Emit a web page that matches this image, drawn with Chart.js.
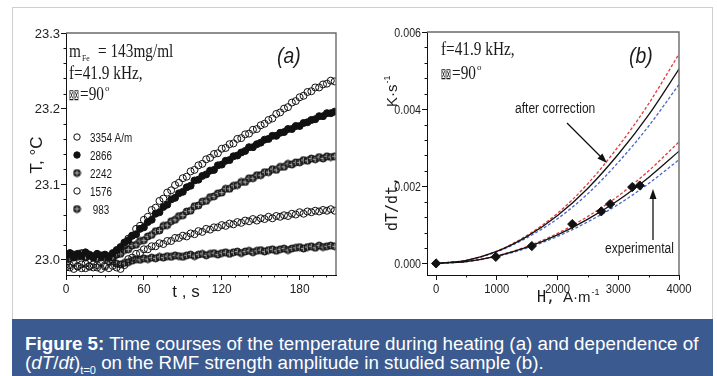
<!DOCTYPE html>
<html>
<head>
<meta charset="utf-8">
<script src="https://cdn.jsdelivr.net/npm/chart.js@4.4.1/dist/chart.umd.min.js"></script>
<style>
  body { margin: 0; background: #fff; width: 717px; height: 376px; overflow: hidden; position: relative; }
  #frame { position: absolute; left: 12px; top: 7px; width: 701px; height: 312px; border: 1px solid #cfcfcf; border-bottom: none; box-sizing: border-box; }
  canvas { position: absolute; left: 0; top: 0; }
  #caption { position: absolute; left: 12px; top: 319px; width: 701px; height: 57px; background: #3b5a8f; color: #fff;
             font-family: "Liberation Sans", Arial, sans-serif; font-size: 18.8px; line-height: 19px;
             padding: 15px 0 0 13px; box-sizing: border-box; white-space: nowrap; }
  #caption .sub { font-size: 11px; position: relative; top: 5px; }
</style>
</head>
<body>
<div id="frame"></div>
<canvas id="panelA" width="717" height="318"></canvas>
<canvas id="panelB" width="717" height="318"></canvas>
<div id="caption"><b>Figure 5:</b> Time courses of the temperature during heating (a) and dependence of<br>(<i>dT</i>/<i>dt</i>)<span class="sub">t=0</span> on the RMF strength amplitude in studied sample (b).</div>

<script>
// ---- panel (a): temperature vs time, one array per field amplitude ----
const seconds = [0,3,6,9,12,15,18,21,24,27,30,33,36,39,42,45,48,51,54,57,60,63,66,69,72,75,78,81,84,87,90,93,96,99,102,105,108,111,114,117,120,123,126,129,132,135,138,141,144,147,150,153,156,159,162,165,168,171,174,177,180,183,186,189,192,195,198,201,204,207];

const temp3354 = [22.994,22.990,22.996,22.992,22.989,22.995,22.991,22.994,22.990,22.996,
  22.993,22.998,23.004,23.007,23.015,23.019,23.028,23.032,23.041,23.045,
  23.053,23.057,23.066,23.069,23.078,23.081,23.089,23.092,23.099,23.102,
  23.108,23.110,23.117,23.119,23.125,23.127,23.133,23.135,23.140,23.141,
  23.147,23.148,23.153,23.154,23.160,23.161,23.166,23.167,23.172,23.173,
  23.178,23.180,23.185,23.187,23.193,23.195,23.200,23.202,23.208,23.210,
  23.215,23.217,23.222,23.223,23.228,23.228,23.232,23.233,23.237,23.236];

const temp2866 = [23.006,23.009,23.004,23.008,23.005,23.010,23.006,23.003,23.008,23.005,
  23.007,23.004,23.009,23.013,23.017,23.023,23.026,23.032,23.034,23.041,
  23.043,23.050,23.053,23.061,23.063,23.070,23.073,23.080,23.082,23.088,
  23.090,23.096,23.098,23.105,23.106,23.111,23.113,23.118,23.119,23.125,
  23.126,23.131,23.132,23.137,23.138,23.142,23.144,23.149,23.149,23.153,
  23.155,23.159,23.160,23.164,23.164,23.168,23.169,23.173,23.173,23.177,
  23.177,23.181,23.182,23.185,23.186,23.190,23.190,23.194,23.194,23.196];

const temp2242 = [23.004,23.008,23.003,23.006,23.009,23.004,23.007,23.005,23.002,23.006,
  23.004,23.005,23.003,23.007,23.008,23.013,23.014,23.019,23.020,23.025,
  23.026,23.031,23.033,23.038,23.039,23.045,23.046,23.051,23.053,23.058,
  23.059,23.064,23.065,23.071,23.072,23.077,23.078,23.083,23.084,23.088,
  23.089,23.094,23.094,23.098,23.099,23.103,23.103,23.108,23.108,23.112,
  23.112,23.116,23.116,23.120,23.119,23.123,23.123,23.127,23.126,23.129,
  23.129,23.132,23.131,23.134,23.133,23.136,23.134,23.137,23.136,23.137];

const temp1576 = [22.990,22.993,22.988,22.991,22.994,22.989,22.992,22.990,22.993,22.988,
  22.991,22.989,22.992,22.990,22.988,22.993,23.001,23.003,23.008,23.009,
  23.014,23.014,23.018,23.018,23.022,23.021,23.025,23.025,23.029,23.029,
  23.032,23.031,23.035,23.034,23.038,23.037,23.041,23.040,23.043,23.043,
  23.046,23.045,23.048,23.047,23.050,23.049,23.052,23.051,23.054,23.052,
  23.055,23.054,23.057,23.055,23.058,23.057,23.059,23.058,23.061,23.060,
  23.063,23.061,23.064,23.063,23.065,23.064,23.066,23.065,23.067,23.065];

const temp983 = [23.005,23.002,23.007,23.004,23.008,23.003,23.006,23.004,23.007,23.003,
  23.005,23.002,22.998,22.995,22.994,22.996,22.997,22.999,23.001,23.000,
  23.002,23.001,23.003,23.002,23.004,23.003,23.005,23.004,23.006,23.005,
  23.004,23.006,23.007,23.005,23.007,23.008,23.006,23.008,23.009,23.007,
  23.009,23.010,23.008,23.010,23.011,23.009,23.011,23.012,23.010,23.012,
  23.013,23.011,23.013,23.014,23.012,23.014,23.015,23.013,23.015,23.016,
  23.017,23.015,23.017,23.018,23.016,23.019,23.017,23.018,23.019,23.018];

const legendLabelsA = ["3354 A/m", "2866", "2242", "1576", " 983"];
const xTicksA = [0, 60, 120, 180];
const yTicksA = [23.0, 23.1, 23.2, 23.3];
const xMinorA = [10,20,30,40,50,70,80,90,100,110,130,140,150,160,170,190,200];
const yMinorA = [23.02,23.04,23.06,23.08,23.12,23.14,23.16,23.18,23.22,23.24,23.26,23.28];

// ---- panel (b): heating rate vs field amplitude ----
const fieldH = [0, 500, 1000, 1500, 2000, 2500, 3000, 3500, 4000];
const corrSolid = [0, 0.00008, 0.00031, 0.00070, 0.00124, 0.00195, 0.00283, 0.00385, 0.00504];
const corrRed   = [0, 0.00008, 0.00032, 0.00073, 0.00130, 0.00207, 0.00303, 0.00414, 0.00543];
const corrBlue  = [0, 0.00008, 0.00030, 0.00067, 0.00116, 0.00181, 0.00262, 0.00356, 0.00464];
const expSolid  = [0, 0.00005, 0.00019, 0.00042, 0.00074, 0.00115, 0.00164, 0.00223, 0.00291];
const expRed    = [0, 0.00005, 0.00020, 0.00044, 0.00078, 0.00122, 0.00175, 0.00240, 0.00315];
const expBlue   = [0, 0.00005, 0.00018, 0.00040, 0.00070, 0.00108, 0.00153, 0.00207, 0.00269];
const measuredH    = [0, 983, 1576, 2242, 2720, 2866, 3230, 3354];
const measuredRate = [0, 0.00017, 0.00045, 0.00102, 0.00135, 0.00154, 0.00198, 0.00202];

const xTicksB = [0, 1000, 2000, 3000, 4000];
const yTicksB = [0, 0.002, 0.004, 0.006];
const xMinorB = [500, 1500, 2500, 3500];
const yMinorB = [0.0004,0.0008,0.0012,0.0016,0.0024,0.0028,0.0032,0.0036,0.0044,0.0048,0.0052,0.0056];

const pairs = (xs, ys) => xs.map((x, i) => ({ x: x, y: ys[i] }));

const crossCircle = (r) => {
    const c = document.createElement("canvas");
    const s = Math.ceil(2 * r + 2);
    c.width = s; c.height = s;
    const g = c.getContext("2d");
    g.beginPath(); g.arc(s / 2, s / 2, r, 0, 2 * Math.PI);
    g.fillStyle = "#303030"; g.fill();
    g.strokeStyle = "#111"; g.lineWidth = 1; g.stroke();
    g.strokeStyle = "#bbbbbb"; g.lineWidth = 0.8;
    g.beginPath();
    g.moveTo(s / 2 - r + 1, s / 2); g.lineTo(s / 2 + r - 1, s / 2);
    g.moveTo(s / 2, s / 2 - r + 1); g.lineTo(s / 2, s / 2 + r - 1);
    g.stroke();
    return c;
};
const crossed = crossCircle(3.5);

const put = (ctx, s, x, y, font, sx = 1, sy = 1, align = "left", rot = 0, color = "#1a1a1a") => {
    ctx.save();
    ctx.translate(x, y);
    if (rot) ctx.rotate(rot);
    ctx.scale(sx, sy);
    ctx.font = font;
    ctx.fillStyle = color;
    ctx.textAlign = align;
    ctx.textBaseline = "alphabetic";
    ctx.fillText(s, 0, 0);
    const w = ctx.measureText(s).width * sx;
    ctx.restore();
    return w;
};

const arrow = (ctx, x1, y1, x2, y2) => {
    const a = Math.atan2(y2 - y1, x2 - x1);
    ctx.save();
    ctx.strokeStyle = "#111"; ctx.fillStyle = "#111"; ctx.lineWidth = 1.3;
    ctx.beginPath(); ctx.moveTo(x1, y1); ctx.lineTo(x2 - 6 * Math.cos(a), y2 - 6 * Math.sin(a)); ctx.stroke();
    ctx.beginPath();
    ctx.moveTo(x2, y2);
    ctx.lineTo(x2 - 10 * Math.cos(a) + 3.5 * Math.sin(a), y2 - 10 * Math.sin(a) - 3.5 * Math.cos(a));
    ctx.lineTo(x2 - 10 * Math.cos(a) - 3.5 * Math.sin(a), y2 - 10 * Math.sin(a) + 3.5 * Math.cos(a));
    ctx.closePath(); ctx.fill();
    ctx.restore();
};

const SERIF = '18px "Liberation Serif"';
const SANS = '"Liberation Sans", Arial, sans-serif';
const MONO = '"DejaVu Sans Mono", monospace';

// frame, minor ticks and (narrow) tick labels, all placed from the chart's own scales
const axisDecor = {
    id: "axisDecor",
    afterDraw(chart, args, opts) {
        const { ctx, chartArea: a, scales: { x, y } } = chart;
        ctx.save();
        ctx.strokeStyle = "#6a6a6a"; ctx.lineWidth = 1.4;
        ctx.beginPath(); ctx.moveTo(a.left, a.top); ctx.lineTo(a.right, a.top); ctx.lineTo(a.right, a.bottom); ctx.stroke();
        ctx.strokeStyle = "#111"; ctx.lineWidth = 1;
        ctx.beginPath();
        opts.xMinor.forEach(v => {
            const px = Math.round(x.getPixelForValue(v)) + 0.5;
            ctx.moveTo(px, a.bottom); ctx.lineTo(px, a.bottom + 2.5);
        });
        opts.yMinor.forEach(v => {
            const py = Math.round(y.getPixelForValue(v)) + 0.5;
            ctx.moveTo(a.left - 2.5, py); ctx.lineTo(a.left, py);
        });
        ctx.stroke();
        ctx.restore();
        x.ticks.forEach(t => put(ctx, opts.fmtX(t.value), x.getPixelForValue(t.value), a.bottom + 18, "13px " + SANS, opts.sxX, 1, "center", 0, "#222"));
        y.ticks.forEach(t => put(ctx, opts.fmtY(t.value), a.left - 6, y.getPixelForValue(t.value) + 4.5, "13px " + SANS, opts.sxY, 1, "right", 0, "#222"));
    }
};

const notesA = {
    id: "notesA",
    afterDraw(chart) {
        const ctx = chart.ctx;
        let w = put(ctx, "m", 69, 57, SERIF, 0.85);
        put(ctx, "Fe", 69 + w + 1, 61, '9px "Liberation Serif"', 0.85);
        put(ctx, "= 143mg/ml", 98, 57, SERIF, 0.85);
        put(ctx, "f=41.9 kHz,", 69, 79, SERIF, 0.85);
        w = put(ctx, "⊠⊠", 69, 100, '12px "DejaVu Sans"', 0.5, 1.25);
        const w2 = put(ctx, "=90", 69 + w + 1, 100, SERIF, 0.85);
        put(ctx, "o", 69 + w + 2 + w2, 91, '9px "Liberation Serif"');
        put(ctx, "(a)", 277, 63, "italic 22px " + SANS, 0.88);

        // legend
        chart.data.datasets.forEach((ds, i) => {
            const yc = 137 + i * 18;
            ctx.save();
            if (ds.pointStyle instanceof HTMLCanvasElement) {
                ctx.drawImage(ds.pointStyle, 77 - ds.pointStyle.width / 2, yc - ds.pointStyle.height / 2);
            } else {
                ctx.beginPath(); ctx.arc(77, yc, 3.2, 0, 2 * Math.PI);
                ctx.fillStyle = ds.backgroundColor; ctx.fill();
                ctx.strokeStyle = ds.borderColor; ctx.lineWidth = 1; ctx.stroke();
            }
            ctx.restore();
            put(ctx, legendLabelsA[i], 90, yc + 4.5, "12px " + SANS, 0.82);
        });

        put(ctx, "T, °C", 42, 155, "17px " + SANS, 1, 1, "center", -Math.PI / 2);
        put(ctx, "t , s", 186, 297, "17px " + SANS, 1, 1, "center");
    }
};

const notesB = {
    id: "notesB",
    afterDraw(chart) {
        const ctx = chart.ctx;
        put(ctx, "f=41.9 kHz,", 441, 55, SERIF, 0.85);
        const w = put(ctx, "⊠⊠", 441, 79, '12px "DejaVu Sans"', 0.5, 1.25);
        const w2 = put(ctx, "=90", 441 + w + 1, 79, SERIF, 0.85);
        put(ctx, "o", 441 + w + 2 + w2, 70, '9px "Liberation Serif"');
        put(ctx, "(b)", 629, 63, "italic 22px " + SANS, 0.88);
        put(ctx, "after correction", 515, 113, "14px " + SANS, 0.86);
        put(ctx, "experimental", 605, 253, "14px " + SANS, 0.86);
        arrow(ctx, 567, 123, 607, 163);
        arrow(ctx, 653, 240, 653, 189);

        put(ctx, "dT/dt,", 397, 204, "15px " + MONO, 1, 1, "center", -Math.PI / 2);
        const wk = put(ctx, "K·s", 397, 107, "15px " + SANS, 1, 1, "left", -Math.PI / 2);
        put(ctx, "-1", 390, 107 - wk - 1, "9px " + SANS, 1, 1, "left", -Math.PI / 2);
        put(ctx, "H,", 537, 302, "15px " + MONO);
        const wa = put(ctx, "A·m", 563, 302, "15px " + SANS);
        put(ctx, "-1", 563 + wa + 1, 295, "9px " + SANS);
    }
};

const axis = (min, max, ticks, fitSize, isX) => ({
    type: "linear",
    min: min,
    max: max,
    afterBuildTicks: (s) => { s.ticks = ticks.map(v => ({ value: v })); },
    afterFit: (s) => { if (isX) { s.height = fitSize; } else { s.width = fitSize; } },
    ticks: { display: false },
    grid: { drawOnChartArea: false, drawTicks: true, tickLength: 5, color: "#111" },
    border: { display: true, color: "#111", width: 1 },
});

new Chart(document.getElementById("panelA"), {
    type: "scatter",
    data: {
        datasets: [
            { label: "3354", data: pairs(seconds, temp3354), pointStyle: "circle", pointRadius: 3.5, borderWidth: 1, borderColor: "#111", backgroundColor: "rgba(255,255,255,0)" },
            { label: "2866", data: pairs(seconds, temp2866), pointStyle: "circle", pointRadius: 3.5, borderWidth: 1, borderColor: "#111", backgroundColor: "#111" },
            { label: "2242", data: pairs(seconds, temp2242), pointStyle: crossed, pointRadius: 3.5 },
            { label: "1576", data: pairs(seconds, temp1576), pointStyle: "circle", pointRadius: 3.5, borderWidth: 1, borderColor: "#111", backgroundColor: "rgba(255,255,255,0)" },
            { label: "983", data: pairs(seconds, temp983), pointStyle: crossed, pointRadius: 3.5 },
        ],
    },
    options: {
        responsive: false,
        animation: false,
        events: [],
        layout: { padding: { left: 0, right: 381, top: 33, bottom: 0 } },
        plugins: {
            legend: { display: false },
            tooltip: { enabled: false },
            axisDecor: { xMinor: xMinorA, yMinor: yMinorA, fmtX: (v) => String(v), fmtY: (v) => v.toFixed(1), sxX: 0.92, sxY: 1 },
        },
        scales: {
            x: axis(0, 208, xTicksA, 43, true),
            y: axis(22.98, 23.3, yTicksA, 66, false),
        },
    },
    plugins: [axisDecor, notesA],
});

const curve = (ys, color, dash) => ({
    data: pairs(fieldH, ys),
    showLine: true,
    pointRadius: 0,
    borderColor: color,
    borderWidth: 1.3,
    borderDash: dash ? [3, 2] : [],
    cubicInterpolationMode: "monotone",
});

new Chart(document.getElementById("panelB"), {
    type: "scatter",
    data: {
        datasets: [
            { label: "experimental", data: pairs(measuredH, measuredRate), pointStyle: "rectRot", pointRadius: 4.6, borderWidth: 1, borderColor: "#111", backgroundColor: "#111" },
            curve(corrSolid, "#111", false),
            curve(expSolid, "#111", false),
            curve(corrRed, "#e33a3a", true),
            curve(corrBlue, "#4a63c8", true),
            curve(expRed, "#e33a3a", true),
            curve(expBlue, "#4a63c8", true),
        ],
    },
    options: {
        responsive: false,
        animation: false,
        events: [],
        layout: { padding: { left: 360, right: 38, top: 32, bottom: 0 } },
        plugins: {
            legend: { display: false },
            tooltip: { enabled: false },
            axisDecor: { xMinor: xMinorB, yMinor: yMinorB, fmtX: (v) => String(v), fmtY: (v) => v.toFixed(3), sxX: 0.87, sxY: 0.82 },
        },
        scales: {
            x: axis(-150, 4000, xTicksB, 43, true),
            y: axis(-0.0003, 0.006, yTicksB, 67, false),
        },
    },
    plugins: [axisDecor, notesB],
});
</script>
</body>
</html>
